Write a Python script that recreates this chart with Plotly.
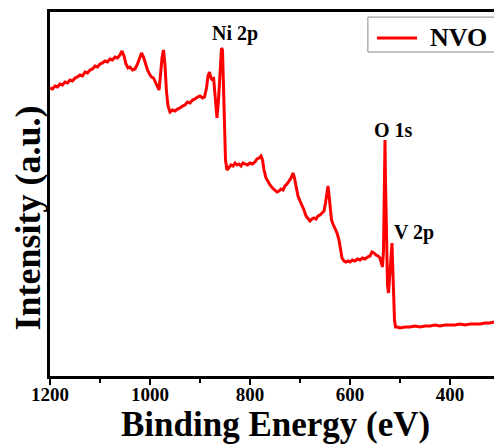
import plotly.graph_objects as go

# Binding energy (eV) and intensity (a.u.)
energy = [1200, 1195, 1190, 1185, 1180, 1175, 1170, 1165, 1160, 1155, 1150, 1145, 1140, 1135,
          1130, 1125, 1120, 1115, 1110, 1105, 1100, 1095, 1090, 1085, 1080, 1075, 1070, 1065,
          1060, 1056, 1052, 1048, 1044, 1040, 1035, 1030, 1025, 1020, 1017, 1013, 1009, 1005,
          1001, 997, 993, 989, 985, 982, 979, 976, 973, 970, 967, 964, 960, 955, 950, 945, 940,
          935, 930, 925, 920, 915, 910, 905, 900, 895, 891, 887, 884, 881, 878, 875, 873, 870,
          868, 866, 863, 860, 857, 855, 853, 851, 849, 846, 842, 838, 834, 830, 826, 822, 818,
          814, 810, 805, 800, 795, 790, 786, 782, 778, 775, 772, 768, 764, 760, 755, 750, 746,
          742, 738, 734, 730, 726, 722, 718, 714, 711, 708, 704, 700, 696, 692, 688, 684, 680,
          676, 672, 668, 664, 660, 656, 652, 649, 646, 644, 642, 640, 637, 634, 630, 626, 622,
          619, 616, 612, 608, 604, 600, 595, 590, 585, 580, 575, 570, 565, 560, 556, 552, 548,
          544, 540, 537, 535, 533, 531, 530, 529, 527, 525, 523, 521, 518, 516, 515, 513, 511,
          509, 505, 500, 490, 480, 470, 460, 450, 440, 430, 420, 410, 400, 390, 380, 370, 360,
          350, 340, 330, 320, 312]
intensity = [288, 287, 290, 289, 292, 291, 294, 293, 296, 295, 298, 299, 301, 300,
             304, 303, 306, 307, 310, 309, 312, 313, 315, 314, 317, 316, 319, 318,
             321, 325, 320, 312, 308, 309, 306, 307, 312, 320, 323, 319, 312, 306,
             302, 299, 298, 293, 288, 286, 301, 318, 326, 311, 284, 270, 264, 266, 265, 267, 268,
             270, 271, 274, 273, 276, 277, 279, 280, 278, 279, 288, 300, 304, 298, 296, 299, 281,
             264, 258, 276, 306, 328, 326, 291, 246, 216, 206, 209, 211, 210, 213, 211, 212, 210,
             213, 212, 211, 213, 212, 214, 217, 218, 220, 216, 206, 198, 194, 191, 188, 186, 184,
             185, 187, 186, 190, 192, 195, 198, 203, 198, 190, 180, 175, 171, 166, 160, 157, 155,
             157, 158, 157, 160, 161, 163, 165, 173, 184, 190, 181, 168, 156, 152, 148, 143, 136,
             126, 118, 115, 114, 115, 114, 116, 115, 117, 116, 118, 117, 119, 120, 124, 123, 121,
             120, 118, 112, 109, 126, 186, 236, 196, 136, 91, 83, 96, 121, 133, 116, 81, 56,
             49, 49, 48, 49, 49, 50, 49, 50, 50, 51, 50, 51, 51, 51, 52, 51, 52,
             52, 52, 53, 53, 54]

# Peak labels
peak_names = ["Ni 2p", "O 1s", "V 2p"]
peak_label_x = [830, 514, 472]
peak_label_y = [343, 246, 144]

x_ticks = [1200, 1000, 800, 600, 400]
series_name = "NVO"

SERIF = "Liberation Serif"

fig = go.Figure()
fig.add_trace(go.Scatter(
    x=energy, y=intensity, mode="lines", name=series_name,
    line=dict(color="#ff0000", width=3), showlegend=False,
))

for name, px, py in zip(peak_names, peak_label_x, peak_label_y):
    fig.add_annotation(x=px, y=py, xref="x", yref="y", text=name, showarrow=False,
                       xanchor="center", yanchor="middle",
                       font=dict(family=SERIF, size=20, color="black", weight="bold"))

# Axis titles
fig.add_annotation(x=0.507, y=-0.1332, xref="paper", yref="paper",
                   xanchor="center", yanchor="middle",
                   text="Binding Energy (eV)", showarrow=False,
                   font=dict(family=SERIF, size=35, color="black", weight="bold"))
fig.add_annotation(x=-0.05, y=0.435, xref="paper", yref="paper", textangle=-90,
                   xanchor="center", yanchor="middle",
                   text="Intensity (a.u.)", showarrow=False,
                   font=dict(family=SERIF, size=36, color="black", weight="bold"))

# Legend box (extends past the right edge like the reference)
fig.add_shape(type="rect", xref="paper", yref="paper", x0=0.716, x1=1.02, y0=0.890, y1=0.986,
              line=dict(color="#888888", width=1), fillcolor="white", layer="above")
fig.add_shape(type="line", xref="paper", yref="paper", x0=0.7365, x1=0.8266, y0=0.9286, y1=0.9286,
              line=dict(color="#ff0000", width=3), layer="above")
fig.add_annotation(x=0.8514, y=0.931, xref="paper", yref="paper", xanchor="left", yanchor="middle",
                   text=series_name, showarrow=False,
                   font=dict(family=SERIF, size=26, color="black", weight="bold"))

fig.update_layout(
    width=494, height=444,
    margin=dict(l=50, r=0, t=12, b=68),
    paper_bgcolor="white", plot_bgcolor="white",
    showlegend=False,
    xaxis=dict(range=[1200, 312], tickvals=x_ticks, ticks="outside", ticklen=6,
               tickwidth=2, tickcolor="black", showline=True, linecolor="black",
               linewidth=2.5, mirror=True, showgrid=False, zeroline=False,
               ticklabelstandoff=-7,
               tickfont=dict(family=SERIF, size=19, color="black", weight="bold"),
               minor=dict(dtick=100, tick0=0, ticks="outside", ticklen=4, tickwidth=2,
                          tickcolor="black", showgrid=False)),
    yaxis=dict(range=[0, 364], showticklabels=False, ticks="", showline=True,
               linecolor="black", linewidth=2.5, showgrid=False, zeroline=False),
)

# Remove the default page margin so the figure sits at the window's top-left corner
fig.write_html("out.html", config={"displayModeBar": False},
               post_script="document.body.style.margin='0px';document.body.style.overflow='hidden';")
